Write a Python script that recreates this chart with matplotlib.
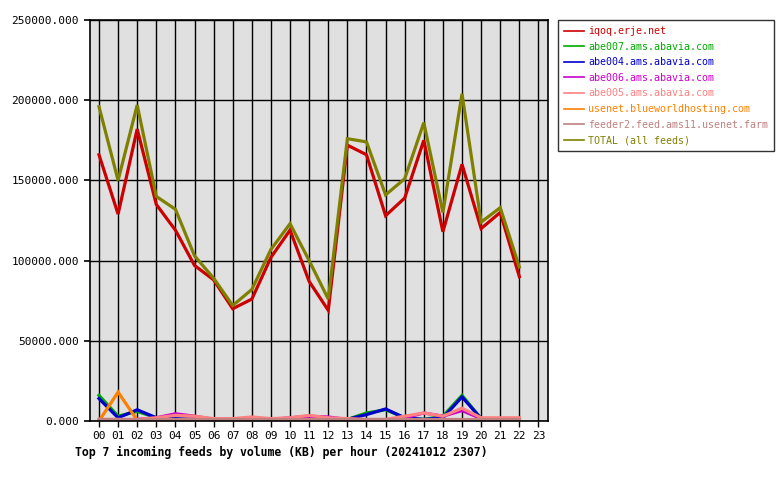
import matplotlib
matplotlib.use("Agg")
import matplotlib.pyplot as plt
from matplotlib.ticker import FuncFormatter

# horas do dia
horas = list(range(23))
rotulos_x = ["%02d" % h for h in range(24)]

# volumes (KB) por feed
iqoq = [166, 129, 182, 135, 119, 97, 88, 70, 76, 102, 119, 87, 69,
        172, 166, 128, 139, 175, 118, 160, 120, 130, 90]
abe007 = [16, 3, 6, 2, 1, 1, 1, 0.5, 0.5, 1, 1, 1, 1,
          1, 5, 7, 2, 1, 3, 16, 1.5, 1, 1]
abe004 = [14, 2, 7, 2, 1.5, 1, 0.5, 0.5, 0.5, 1, 0.5, 1, 0.5,
          1, 4, 7.5, 2, 1, 2, 15, 1.5, 1, 1]
abe006 = [0.5, 0.5, 1, 2, 4.5, 3, 1, 0.5, 1, 1, 2, 3, 2.5,
          1, 0.5, 0.5, 2, 5, 3, 6.5, 1.5, 1, 1]
abe005 = [1, 1, 1, 2, 3.5, 3, 1.5, 1.5, 2.5, 1.5, 2, 3.5, 2,
          1.5, 1, 1, 3, 5, 3, 8, 2, 2, 2]
usenet = [0, 18, 0.5, 0.5, 0.5, 0.5, 0.5, 0.5, 0.5, 0.5, 0.5, 0.5, 0.5,
          0.5, 0.5, 0.5, 0.5, 0.5, 0.5, 0.5, 0.5, 0.5, 0.5]
feeder2 = [1, 1, 1, 1, 1, 1, 1, 1, 1, 1, 1, 1, 1,
           1, 1, 1, 1, 1, 1, 1, 1, 1, 1]
total = [196, 150, 197, 140, 132, 103, 89, 72, 82, 107, 123, 100, 76,
         176, 174, 141, 151, 186, 130, 204, 124, 133, 96]

feeds = [
    ("iqoq.erje.net", iqoq, "#cc0000"),
    ("abe007.ams.abavia.com", abe007, "#00aa00"),
    ("abe004.ams.abavia.com", abe004, "#0000cc"),
    ("abe006.ams.abavia.com", abe006, "#cc00cc"),
    ("abe005.ams.abavia.com", abe005, "#ff8080"),
    ("usenet.blueworldhosting.com", usenet, "#ff8000"),
    ("feeder2.feed.ams11.usenet.farm", feeder2, "#c08080"),
    ("TOTAL (all feeds)", total, "#808000"),
]

plt.rcParams["font.family"] = ["DejaVu Sans Mono"]

fig = plt.figure(figsize=(7.8, 4.8), dpi=100)
ax = fig.add_axes([90 / 780, 59 / 480, 458 / 780, 401 / 480])
ax.set_facecolor("#e0e0e0")

linhas = []
for nome, valores, cor in feeds:
    l, = ax.plot(horas, [v * 1000 for v in valores], color=cor, lw=2.3,
                 solid_joinstyle="miter", label=nome)
    linhas.append(l)

ax.set_xlim(-0.47, 23.5)
ax.set_ylim(0, 250000)
ax.set_xticks(range(24))
ax.set_xticklabels(rotulos_x, fontsize=8)
ax.set_yticks(range(0, 250001, 50000))
ax.yaxis.set_major_formatter(FuncFormatter(lambda v, p: "%.3f" % v))
ax.tick_params(axis="y", labelsize=8, length=4, width=1.2, pad=4)
ax.tick_params(axis="x", length=4, width=1, pad=3)
ax.grid(True, color="black", lw=1)
ax.set_axisbelow(True)
for s in ax.spines.values():
    s.set_linewidth(1.2)

leg = fig.legend(handles=linhas, loc="upper left",
                 bbox_to_anchor=(558 / 780, 460 / 480), fontsize=7.2,
                 frameon=True, fancybox=False, edgecolor="black",
                 handlelength=2.0, handletextpad=0.4, labelspacing=0.56,
                 borderpad=0.6, borderaxespad=0)
leg.get_frame().set_linewidth(1)
for txt, (nome, valores, cor) in zip(leg.get_texts(), feeds):
    txt.set_color(cor)
for h in leg.legend_handles:
    h.set_linewidth(1.2)

fig.text(75 / 780, 1 - 452 / 480, "Top 7 incoming feeds by volume (KB) per hour (20241012 2307)",
         fontsize=8.3, fontweight="bold", va="center", ha="left")

fig.savefig("out.png", dpi=100)
